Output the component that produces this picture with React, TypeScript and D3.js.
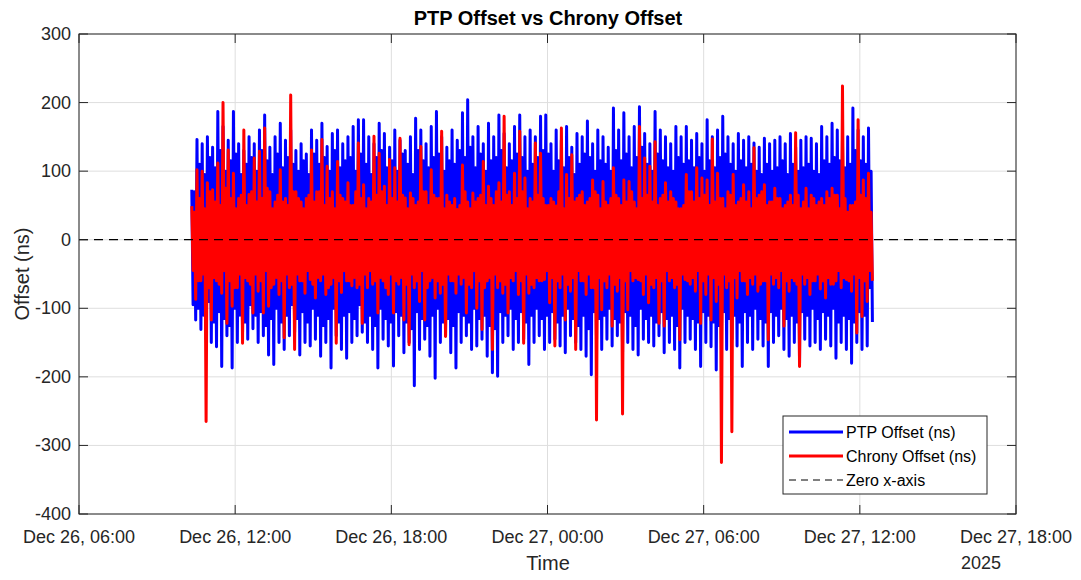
import React from 'react';
import * as d3 from 'd3';

// sample times: 4 readings (spike high, body low, body high, spike low) per 12 minutes
const startTime = new Date(2025, 11, 26, 10, 20);
const stepMinutes = 12;

// PTP offset: spike tops / spike bottoms
const blueHigh = [
  73, 146, 140, 150, 135, 187, 165, 145, 187, 140, 130,
  150, 140, 160, 182, 135, 150, 170, 145, 160, 130,
  140, 125, 160, 145, 170, 136, 155, 160, 140, 150, 165, 175,
  175, 150, 140, 170, 155, 135, 160, 145, 130, 150, 177, 160, 140, 165, 187, 150, 135, 160, 145, 185, 204, 150, 165, 140, 170, 150, 182, 155, 140, 165, 182, 150, 160,
  150, 180, 182, 140, 160, 145, 165, 135, 155, 150, 173, 140, 160, 150, 135, 192, 160, 185, 150, 165, 194, 155, 140, 187, 160, 150, 140, 165, 150, 165, 145, 155, 140,
  175, 150, 160, 180, 150, 140, 155, 145, 150, 141, 135, 148, 140, 145, 150, 140, 155, 135, 145, 150, 148, 140, 165, 150, 170, 160, 145, 150, 192, 160, 150, 163,
];

const blueLow = [
  -117, -131, -145, -150, -156, -185, -140, -187, -150, -135, -145, -130, -150, -140, -168, -182, -150, -160, -140, -135, -168, -150, -155, -145, -170, -150, -187, -140, -160, -173, -150, -140, -135,
  -150, -160, -187, -145, -155, -184, -140, -165, -150, -213, -160, -145, -170, -202, -150, -140, -165, -187, -150, -140, -160, -155, -145, -170, -194, -199, -150, -140, -160, -150, -145, -182, -150,
  -140, -160, -150, -145, -155, -165, -140, -150, -160, -170, -197, -150, -160, -145, -155, -140, -165, -150, -160, -168, -145, -150, -155, -140, -165, -150, -160, -187, -150, -145, -160, -185, -150,
  -156, -190, -150, -160, -145, -155, -185, -150, -160, -145, -155, -185, -150, -140, -160, -170, -150, -180, -145, -155, -150, -160, -145, -155, -173, -150, -160, -180, -150, -160, -155, -120,
];

// PTP offset: body of the band
const blueMidHigh = [
  70, 110, 95, 120, 105, 130, 100, 115, 125, 95,
  110, 120, 100, 130, 115, 95, 125, 105, 120, 110,
  100, 115, 95, 125, 110, 120, 100, 130, 105, 115,
  120, 100, 125, 110, 95, 120, 130, 105, 115, 100,
  125, 110, 95, 130, 115, 105, 120, 125, 100, 115,
  110, 130, 120, 135, 105, 125, 100, 115, 120, 130,
  105, 115, 125, 120, 100, 110, 120, 130, 125, 100,
  115, 105, 120, 95, 110, 125, 120, 100, 115, 110,
  100, 130, 115, 125, 105, 120, 135, 110, 100, 125,
  115, 105, 100, 120, 110, 115, 105, 120, 100, 115,
  105, 120, 125, 110, 100, 115, 105, 110, 100, 95,
  110, 100, 105, 115, 95, 110, 100, 105, 110, 100,
  95, 115, 110, 120, 115, 105, 110, 130, 115, 110,
  100,
];

const blueMidLow = [
  -95, -100, -110, -90, -120, -105, -115, -125, -100, -110,
  -120, -95, -110, -105, -125, -115, -100, -120, -110, -95,
  -115, -105, -120, -100, -110, -125, -115, -100, -120, -110,
  -105, -115, -95, -120, -110, -125, -100, -115, -120, -105,
  -110, -120, -130, -105, -115, -125, -110, -100, -120, -115,
  -125, -105, -110, -120, -100, -115, -110, -125, -130, -105,
  -110, -100, -115, -105, -120, -110, -100, -115, -110, -105,
  -120, -110, -100, -115, -125, -110, -130, -105, -115, -110,
  -100, -115, -120, -105, -110, -125, -100, -115, -110, -120,
  -105, -115, -110, -125, -100, -110, -115, -120, -105, -110,
  -120, -125, -105, -115, -110, -120, -105, -110, -100, -115,
  -120, -105, -110, -100, -115, -110, -120, -105, -110, -100,
  -115, -105, -110, -100, -120, -110, -115, -120, -105, -110,
  -70,
];

// Chrony offset: spike tops / spike bottoms
const redHigh = [
  49, 102, 100, 83, 73, 112, 200, 131, 97, 60, 160, 66, 119, 129, 163, 70, 55, 102, 60, 211, 70, 55, 60, 131, 70, 146, 107, 70, 114, 60, 83, 50, 141,
  80, 60, 151, 126, 78, 117, 105, 148, 61, 68, 50, 136, 70, 102, 60, 158, 65, 50, 44, 109, 55, 68, 60, 114, 78, 50, 83, 180, 70, 97, 158, 90, 60,
  141, 126, 50, 60, 49, 163, 95, 124, 60, 70, 55, 87, 65, 85, 50, 105, 60, 87, 85, 55, 165, 119, 107, 143, 60, 83, 70, 55, 45, 95, 70, 105, 90,
  87, 147, 97, 60, 70, 95, 55, 80, 70, 134, 65, 80, 55, 75, 60, 50, 65, 156, 45, 75, 65, 50, 60, 70, 75, 65, 224, 40, 50, 175, 87, 97,
];

const redLow = [
  -87, -60, -265, -117, -60, -78, -122, -97, -70, -151, -60, -107, -75, -107, -97, -65, -80, -143, -70, -160, -60, -78, -58, -85, -60, -80, -65, -151, -77, -60, -67, -70, -122,
  -70, -65, -107, -60, -80, -107, -65, -117, -153, -70, -90, -117, -60, -85, -78, -141, -60, -78, -65, -107, -70, -100, -131, -60, -160, -70, -78, -107, -60, -80, -151, -78, -70,
  -60, -58, -92, -155, -70, -117, -75, -160, -60, -80, -70, -263, -102, -70, -126, -75, -254, -102, -60, -58, -80, -92, -70, -122, -126, -60, -70, -146, -58, -65, -75, -122, -80,
  -117, -90, -325, -70, -280, -85, -60, -80, -65, -75, -60, -146, -65, -70, -126, -75, -60, -185, -65, -80, -60, -72, -85, -65, -60, -70, -58, -75, -136, -112, -90, -60,
];

// Chrony offset: body of the band
const redMidHigh = [
  40, 60, 45, 70, 55, 50, 75, 60, 45, 65,
  50, 70, 55, 60, 75, 45, 65, 55, 50, 70,
  60, 45, 65, 55, 70, 50, 60, 45, 65, 55,
  50, 70, 60, 45, 55, 65, 70, 50, 60, 55,
  65, 45, 60, 55, 70, 50, 65, 60, 45, 55,
  60, 50, 70, 45, 55, 65, 50, 60, 70, 55,
  65, 50, 60, 70, 45, 55, 65, 60, 50, 55,
  70, 45, 60, 55, 65, 50, 60, 70, 45, 55,
  60, 65, 50, 55, 70, 45, 60, 65, 55, 50,
  65, 55, 60, 45, 50, 70, 55, 60, 65, 50,
  55, 60, 45, 65, 50, 60, 55, 45, 60, 70,
  50, 55, 60, 45, 55, 50, 65, 55, 45, 60,
  55, 50, 60, 65, 45, 60, 50, 55, 65, 60,
  40,
];

const redMidLow = [
  -45, -60, -50, -70, -55, -65, -45, -60, -70, -50,
  -55, -65, -50, -60, -45, -70, -55, -60, -50, -65,
  -50, -60, -45, -65, -55, -50, -70, -55, -60, -45,
  -60, -55, -65, -50, -45, -60, -55, -70, -50, -60,
  -55, -65, -50, -60, -45, -70, -55, -60, -65, -50,
  -60, -50, -55, -65, -45, -60, -70, -55, -50, -60,
  -65, -55, -45, -60, -50, -65, -55, -60, -45, -55,
  -60, -50, -65, -55, -45, -60, -50, -70, -55, -60,
  -50, -65, -55, -60, -45, -55, -60, -50, -65, -55,
  -60, -45, -55, -65, -50, -60, -55, -45, -60, -50,
  -55, -65, -50, -60, -55, -45, -60, -55, -50, -65,
  -60, -50, -55, -45, -60, -55, -65, -50, -55, -60,
  -50, -60, -55, -65, -45, -55, -60, -50, -55, -60,
  -45,
];

const yTicks = [-400, -300, -200, -100, 0, 100, 200, 300];
const xDomain = [new Date(2025, 11, 26, 6, 0), new Date(2025, 11, 27, 18, 0)];

const legendItems = [
  { label: 'PTP Offset (ns)', color: '#0000ff', dash: null, width: 3 },
  { label: 'Chrony Offset (ns)', color: '#ff0000', dash: null, width: 3 },
  { label: 'Zero x-axis', color: '#000000', dash: '7,5', width: 1 },
];

type Pt = { t: Date; v: number };

const buildSeries = (hi: number[], midLo: number[], midHi: number[], lo: number[]): Pt[] => {
  const pts: Pt[] = [];
  const q = stepMinutes / 4;
  hi.forEach((h, i) => {
    const t0 = d3.timeMinute.offset(startTime, i * stepMinutes);
    pts.push({ t: t0, v: h });
    pts.push({ t: d3.timeMinute.offset(t0, q), v: midLo[i] });
    pts.push({ t: d3.timeMinute.offset(t0, 2 * q), v: midHi[i] });
    pts.push({ t: d3.timeMinute.offset(t0, 3 * q), v: lo[i] });
  });
  return pts;
};

const App: React.FC = () => {
  const W = 1081;
  const H = 580;
  const m = { left: 79, right: 1016, top: 34, bottom: 514 };
  const ink = '#262626';
  const font = '"Liberation Sans", Arial, Helvetica, sans-serif';

  const x = d3.scaleTime().domain(xDomain).range([m.left, m.right]);
  const y = d3.scaleLinear().domain([-400, 300]).range([m.bottom, m.top]);
  const xTicks = x.ticks(d3.timeHour.every(6)!);
  const fmt = d3.timeFormat('%b %d, %H:%M');

  const line = d3
    .line<Pt>()
    .x((d) => x(d.t))
    .y((d) => y(d.v));

  const bluePath = line(buildSeries(blueHigh, blueMidLow, blueMidHigh, blueLow)) || '';
  const redPath = line(buildSeries(redHigh, redMidLow, redMidHigh, redLow)) || '';
  const tl = 9;

  const lg = { x: 783, y: 416, w: 204, h: 78 };

  return (
    <svg
      width={W}
      height={H}
      style={{ position: 'absolute', left: 0, top: 0, background: '#fff' }}
      fontFamily={font}
    >
      <rect x={0} y={0} width={W} height={H} fill="#fff" />
      {/* grid */}
      {xTicks.map((t, i) => (
        <line key={'gx' + i} x1={x(t)} x2={x(t)} y1={m.top} y2={m.bottom} stroke="#dedede" strokeWidth={1} />
      ))}
      {yTicks.map((v) => (
        <line key={'gy' + v} x1={m.left} x2={m.right} y1={y(v)} y2={y(v)} stroke="#dedede" strokeWidth={1} />
      ))}

      {/* data */}
      <path d={bluePath} fill="none" stroke="#0000ff" strokeWidth={3} strokeLinejoin="round" />
      <path d={redPath} fill="none" stroke="#ff0000" strokeWidth={3} strokeLinejoin="round" />
      <line x1={m.left} x2={m.right} y1={y(0)} y2={y(0)} stroke="#000" strokeWidth={1.2} strokeDasharray="9,6" />

      {/* axes box and ticks */}
      <rect x={m.left} y={m.top} width={m.right - m.left} height={m.bottom - m.top} fill="none" stroke={ink} strokeWidth={1} />
      {xTicks.map((t, i) => (
        <g key={'tx' + i}>
          <line x1={x(t)} x2={x(t)} y1={m.bottom} y2={m.bottom - tl} stroke={ink} />
          <line x1={x(t)} x2={x(t)} y1={m.top} y2={m.top + tl} stroke={ink} />
          <text x={x(t)} y={543} textAnchor="middle" fontSize={18} fill={ink}>
            {fmt(t)}
          </text>
        </g>
      ))}
      {yTicks.map((v) => (
        <g key={'ty' + v}>
          <line x1={m.left} x2={m.left + tl} y1={y(v)} y2={y(v)} stroke={ink} />
          <line x1={m.right} x2={m.right - tl} y1={y(v)} y2={y(v)} stroke={ink} />
          <text x={71} y={y(v) + 6} textAnchor="end" fontSize={18} fill={ink}>
            {v}
          </text>
        </g>
      ))}
      <text x={x(xTicks[xTicks.length - 1]) - 55} y={569} fontSize={18} fill={ink}>
        2025
      </text>

      {/* labels */}
      <text x={548} y={25} textAnchor="middle" fontSize={20} fontWeight="bold" fill="#000">
        PTP Offset vs Chrony Offset
      </text>
      <text x={548} y={570} textAnchor="middle" fontSize={20} fill={ink}>
        Time
      </text>
      <text transform={`translate(29,${(m.top + m.bottom) / 2}) rotate(-90)`} textAnchor="middle" fontSize={20} fill={ink}>
        Offset (ns)
      </text>

      {/* legend */}
      <g transform={`translate(${lg.x},${lg.y})`}>
        <rect x={0} y={0} width={lg.w} height={lg.h} fill="#fff" stroke={ink} strokeWidth={1} />
        {legendItems.map((it, i) => (
          <g key={it.label} transform={`translate(0,${16 + i * 24})`}>
            <line x1={6} x2={60} y1={0} y2={0} stroke={it.color} strokeWidth={it.width} strokeDasharray={it.dash || undefined} />
            <text x={63} y={6} fontSize={16} fill="#000">
              {it.label}
            </text>
          </g>
        ))}
      </g>
    </svg>
  );
};

export default App;
